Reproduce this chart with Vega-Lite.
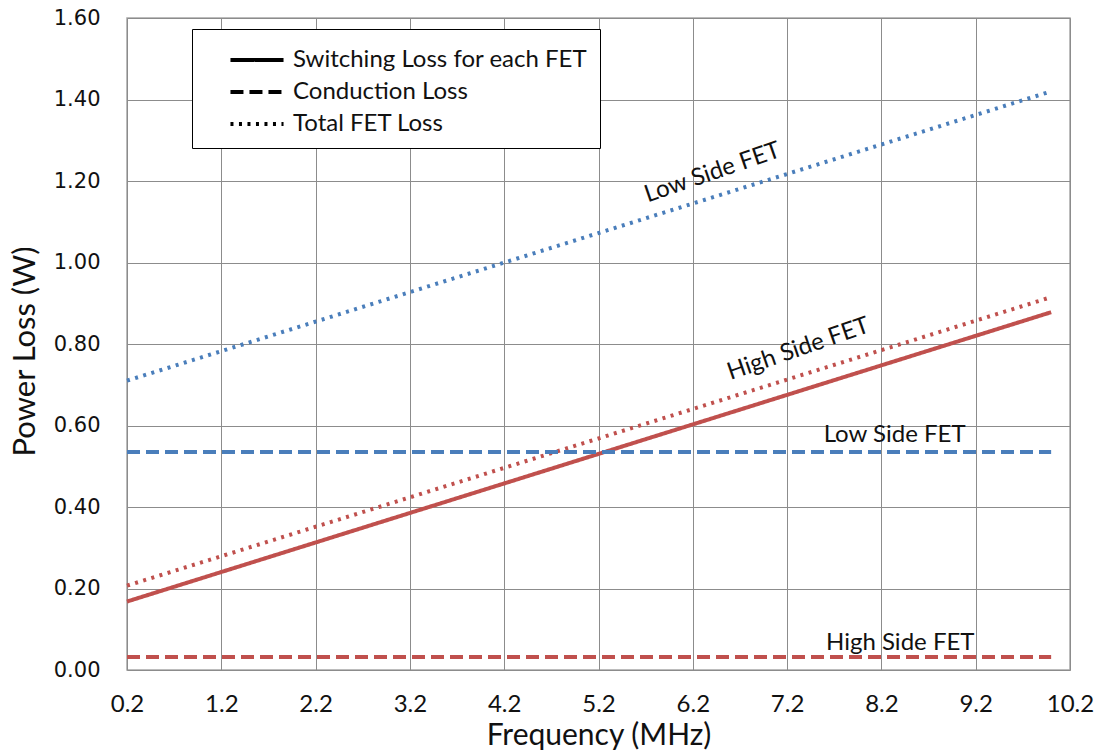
{
  "$schema": "https://vega.github.io/schema/vega-lite/v6.json",
  "autosize": {"type": "none"},
  "width": 943,
  "height": 652,
  "padding": {"left": 127, "top": 18, "right": 29, "bottom": 80},
  "background": "white",
  "config": {
    "view": {"stroke": "#a6a6a6", "strokeWidth": 1.5},
    "font": "Lato"
  },
  "datasets": {
    "lines": [
      {"series": "Low Total", "side": "Low Side", "type": "Total FET Loss", "f": 0.2, "p": 0.71},
      {"series": "Low Total", "side": "Low Side", "type": "Total FET Loss", "f": 10.0, "p": 1.42},
      {"series": "High Switching", "side": "High Side", "type": "Switching Loss for each FET", "f": 0.2, "p": 0.168},
      {"series": "High Switching", "side": "High Side", "type": "Switching Loss for each FET", "f": 10.0, "p": 0.878},
      {"series": "High Total", "side": "High Side", "type": "Total FET Loss", "f": 0.2, "p": 0.207},
      {"series": "High Total", "side": "High Side", "type": "Total FET Loss", "f": 10.0, "p": 0.915},
      {"series": "Low Conduction", "side": "Low Side", "type": "Conduction Loss", "f": 0.2, "p": 0.535},
      {"series": "Low Conduction", "side": "Low Side", "type": "Conduction Loss", "f": 10.0, "p": 0.535},
      {"series": "High Conduction", "side": "High Side", "type": "Conduction Loss", "f": 0.2, "p": 0.032},
      {"series": "High Conduction", "side": "High Side", "type": "Conduction Loss", "f": 10.0, "p": 0.032}
    ],
    "slanted": [
      {"label": "Low Side FET", "f": 6.41, "p": 1.22},
      {"label": "High Side FET", "f": 7.32, "p": 0.787}
    ],
    "flat": [
      {"label": "Low Side FET", "f": 8.34, "p": 0.577},
      {"label": "High Side FET", "f": 8.4, "p": 0.066}
    ]
  },
  "encoding": {
    "x": {
      "field": "f", "type": "quantitative",
      "scale": {"domain": [0.2, 10.2], "nice": false, "zero": false},
      "axis": {
        "title": "Frequency (MHz)",
        "values": [0.2, 1.2, 2.2, 3.2, 4.2, 5.2, 6.2, 7.2, 8.2, 9.2, 10.2],
        "format": ".1f",
        "grid": true, "gridColor": "#8c8c8c", "gridWidth": 1, "gridOpacity": 1,
        "domain": false, "ticks": false, "labelFlush": false,
        "labelFont": "Lato", "labelFontSize": 24, "labelColor": "#111",
        "labelPadding": 22,
        "titleFont": "Lato", "titleFontSize": 30, "titleFontWeight": "normal", "titleColor": "#111",
        "titleBaseline": "alphabetic", "titleY": 74
      }
    },
    "y": {
      "field": "p", "type": "quantitative",
      "scale": {"domain": [0, 1.6], "nice": false},
      "axis": {
        "title": "Power Loss (W)",
        "values": [0, 0.2, 0.4, 0.6, 0.8, 1.0, 1.2, 1.4, 1.6],
        "format": ".2f",
        "grid": true, "gridColor": "#8c8c8c", "gridWidth": 1, "gridOpacity": 1,
        "domain": false, "ticks": false,
        "labelFont": "DejaVu Sans", "labelFontSize": 21, "labelColor": "#111",
        "labelPadding": 27,
        "titleFont": "Lato", "titleFontSize": 31, "titleFontWeight": "normal", "titleColor": "#111",
        "titleBaseline": "middle", "titleX": -102, "titleY": 333
      }
    }
  },
  "layer": [
    {
      "data": {"name": "lines"},
      "mark": {"type": "line", "strokeWidth": 4, "strokeCap": "butt"},
      "encoding": {
        "color": {
          "field": "side", "type": "nominal",
          "scale": {"domain": ["Low Side", "High Side"], "range": ["#4a7ebb", "#c0504d"]},
          "legend": null
        },
        "strokeDash": {
          "field": "type", "type": "nominal",
          "scale": {
            "domain": ["Switching Loss for each FET", "Conduction Loss", "Total FET Loss"],
            "range": [[1, 0], [13, 6], [3, 5.5]]
          },
          "legend": {
            "title": null,
            "orient": "none",
            "legendX": 65,
            "legendY": 11,
            "direction": "vertical",
            "strokeColor": "#000",
            "fillColor": "white",
            "padding": 12,
            "symbolType": "M-1.6,0H1.6",
            "symbolSize": 1100,
            "symbolStrokeWidth": 4,
            "symbolStrokeColor": "#000",
            "symbolOffset": 34,
            "labelFont": "Lato",
            "labelFontSize": 24,
            "labelColor": "#111",
            "labelOffset": 17,
            "labelLimit": 400,
            "rowPadding": 1
          }
        },
        "detail": {"field": "series"}
      }
    },
    {
      "data": {"name": "slanted"},
      "mark": {"type": "text", "angle": -19, "fontSize": 24, "font": "Lato", "color": "#111"},
      "encoding": {"text": {"field": "label"}}
    },
    {
      "data": {"name": "flat"},
      "mark": {"type": "text", "fontSize": 24, "font": "Lato", "color": "#111"},
      "encoding": {"text": {"field": "label"}}
    }
  ]
}
